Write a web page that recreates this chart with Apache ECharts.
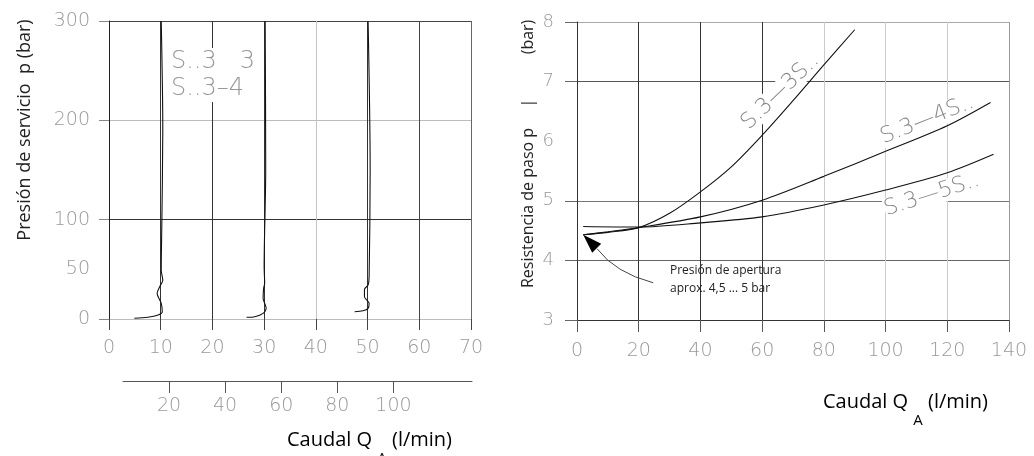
<!DOCTYPE html>
<html>
<head>
<meta charset="utf-8">
<script src="https://cdn.jsdelivr.net/npm/echarts@6/dist/echarts.min.js"></script>
<style>
  html, body { margin: 0; background: #fff; }
  #chart { width: 1034px; height: 456px; }
</style>
</head>
<body>
<div id="chart"></div>
<script>
// --- left: presión de servicio p (bar) vs caudal (l/min) ---
const curve10 = [[4.9, 0.7], [7.5, 1.7], [9.5, 4], [10.3, 7.3], [10.1, 15.8], [9.3, 25.8], [9.8, 32.5], [10.4, 39], [10.1, 49], [10.2, 90], [10.4, 190], [10.1, 300]];
const curve30 = [[26.6, 1.7], [28.2, 2.3], [29.8, 5.7], [30.4, 10.7], [29.8, 20.8], [29.9, 30.8], [30.1, 35.9], [30.0, 52.5], [30.3, 150], [30.2, 300]];
const curve50 = [[47.5, 7.3], [49.1, 8.3], [50.1, 10.7], [50.3, 15.8], [49.4, 22.4], [49.4, 29.8], [50.1, 34.2], [50.3, 42.5], [50.5, 150], [50.1, 300]];
const pressureLabels = [0, 50, 100, 200, 300];
const flowScaleTicks = [20, 40, 60, 80, 100];

// --- right: resistencia de paso (bar) vs caudal (l/min) ---
const curve3S = [[2, 4.43], [10, 4.47], [20, 4.55], [30, 4.79], [40, 5.15], [50, 5.57], [60, 6.1], [70, 6.68], [80, 7.28], [90, 7.87]];
const curve4S = [[2, 4.43], [10, 4.48], [20, 4.55], [40, 4.73], [60, 5.01], [80, 5.41], [100, 5.83], [120, 6.26], [134, 6.65]];
const curve5S = [[2, 4.57], [20, 4.56], [40, 4.63], [60, 4.73], [80, 4.93], [100, 5.18], [120, 5.47], [135, 5.78]];
const resistTicks = [3, 4, 5, 7, 8];

const tickFont = { color: '#999', fontSize: 19, fontFamily: 'DejaVu Sans', fontWeight: 200 };
const textFont = '"Open Sans", "Noto Sans", sans-serif';

const chart = echarts.init(document.getElementById('chart'));

function line(data, xi, yi) {
  return {
    type: 'line', data: data, xAxisIndex: xi, yAxisIndex: yi,
    smooth: 0.3, showSymbol: false, silent: true,
    lineStyle: { color: '#111', width: 1.1 }
  };
}

chart.setOption({
  animation: false,
  grid: [
    { left: 109, right: 563, top: 21, bottom: 137 },
    { left: 123, right: 562, top: 370, bottom: 75 },
    { left: 577, right: 25, top: 22, bottom: 136 }
  ],
  xAxis: [
    {
      gridIndex: 0, type: 'value', min: 0, max: 70, interval: 10,
      axisLine: { lineStyle: { color: '#bbb' } },
      axisTick: { length: 11, lineStyle: { color: '#444' } },
      axisLabel: { margin: 20, ...tickFont },
      splitLine: { show: true, lineStyle: { color: ['#222', '#333', '#333', '#333', '#c4c4c4', '#333', '#444', '#666'] } }
    },
    {
      gridIndex: 1, type: 'value', min: 3.6, max: 128,
      axisLine: { lineStyle: { color: '#555' } },
      axisTick: { length: 12, customValues: flowScaleTicks, lineStyle: { color: '#555' } },
      axisLabel: { margin: 16, customValues: flowScaleTicks, ...tickFont },
      splitLine: { show: false }
    },
    {
      gridIndex: 2, type: 'value', min: 0, max: 140, interval: 20,
      axisLine: { lineStyle: { color: '#333' } },
      axisTick: { length: 12, lineStyle: { color: '#555' } },
      axisLabel: { margin: 22, ...tickFont },
      splitLine: { show: true, lineStyle: { color: ['#333', '#333', '#333', '#333', '#ccc', '#ccc', '#ccc', '#999'] } }
    }
  ],
  yAxis: [
    {
      gridIndex: 0, type: 'value', min: 0, max: 300, interval: 50,
      axisLine: { show: true, lineStyle: { color: '#222' } },
      axisTick: { show: false },
      axisLabel: { margin: 19, ...tickFont, formatter: (v) => pressureLabels.includes(v) ? String(v) : '' },
      splitLine: { show: true, lineStyle: { color: ['#bbb', 'transparent', '#333', 'transparent', '#bbb', 'transparent', '#444'] } }
    },
    {
      // tick marks only (0,100,200,300)
      gridIndex: 0, type: 'value', min: 0, max: 300, interval: 100, position: 'left',
      axisLine: { show: false },
      axisTick: { show: true, length: 10, lineStyle: { color: '#888' } },
      axisLabel: { show: false },
      splitLine: { show: false }
    },
    { gridIndex: 1, type: 'value', min: 0, max: 1, show: false },
    {
      gridIndex: 2, type: 'value', min: 3, max: 8, interval: 1,
      axisLine: { show: true, lineStyle: { color: '#333' } },
      axisTick: { show: false },
      axisLabel: { margin: 23, ...tickFont, fontSize: 18 },
      splitLine: { show: true, lineStyle: { color: ['#333', '#666', '#777', 'transparent', '#555', '#aaa'] } }
    },
    {
      gridIndex: 2, type: 'value', min: 3, max: 8, position: 'left',
      axisLine: { show: false },
      axisTick: { show: true, length: 12, customValues: resistTicks, lineStyle: { color: '#666' } },
      axisLabel: { show: false },
      splitLine: { show: false }
    }
  ],
  series: [
    line(curve10, 0, 0),
    line(curve30, 0, 0),
    line(curve50, 0, 0),
    line(curve3S, 2, 3),
    line(curve4S, 2, 3),
    line(curve5S, 2, 3)
  ]
});

// labels and annotation placed from data coordinates
const toPx = (pt) => chart.convertToPixel({ xAxisIndex: 2, yAxisIndex: 3 }, pt);
const p3 = toPx([65.9, 6.83]);
const p4 = toPx([113.5, 6.36]);
const p5 = toPx([115, 5.1]);
const tip = toPx([2, 4.43]);
const deg = Math.PI / 180;
const curveLabel = (p, text, rot) => ({
  type: 'text', x: p[0], y: p[1], rotation: rot * deg, z: 1,
  style: { text: text, font: '200 22px "DejaVu Sans"', fill: '#888', align: 'center', verticalAlign: 'middle', backgroundColor: '#fff' }
});
const rich = {
  a: { fontSize: 20, lineHeight: 24, verticalAlign: 'top', fontFamily: textFont, color: '#222' },
  s: { fontSize: 15, lineHeight: 14, padding: [33, 0, 0, 0], fontFamily: textFont, color: '#222' }
};

chart.setOption({
  graphic: [
    {
      type: 'text', x: 25, y: 130, rotation: Math.PI / 2,
      style: { text: 'Presión de servicio  p (bar)', font: '18px ' + textFont, fill: '#222', align: 'center', verticalAlign: 'middle' }
    },
    {
      type: 'text', x: 528, y: 208, rotation: Math.PI / 2,
      style: { text: 'Resistencia de paso p', font: '16px ' + textFont, fill: '#222', align: 'center', verticalAlign: 'middle' }
    },
    {
      type: 'text', x: 528, y: 103, rotation: Math.PI / 2,
      style: { text: '|', font: '16px ' + textFont, fill: '#222', align: 'center', verticalAlign: 'middle' }
    },
    {
      type: 'text', x: 528, y: 37, rotation: Math.PI / 2,
      style: { text: '(bar)', font: '16px ' + textFont, fill: '#222', align: 'center', verticalAlign: 'middle' }
    },
    {
      type: 'text', x: 287, y: 430,
      style: { text: '{a|Caudal Q }{s|A}{a| (l/min)}', rich: rich, verticalAlign: 'top' }
    },
    {
      type: 'text', x: 823, y: 392,
      style: { text: '{a|Caudal Q }{s|A}{a| (l/min)}', rich: rich, verticalAlign: 'top' }
    },
    {
      type: 'text', x: 171, y: 48, z: 1,
      style: { text: 'S..3   3\nS..3–4', font: '200 24px "DejaVu Sans"', fill: '#999', lineHeight: 27, backgroundColor: '#fff' }
    },
    curveLabel(p3, 'S.3—3S..', 44),
    curveLabel(p4, 'S.3—4S..', 21.8),
    curveLabel(p5, 'S.3—5S..', 18),
    {
      type: 'text', x: 670, y: 262,
      style: { text: 'Presión de apertura\naprox. 4,5 ... 5 bar', font: '12px ' + textFont, fill: '#222', lineHeight: 18 }
    },
    {
      type: 'bezierCurve', z: 3,
      shape: { x1: tip[0] + 14, y1: tip[1] + 14, cpx1: tip[0] + 32, cpy1: tip[1] + 38, x2: tip[0] + 70, y2: tip[1] + 48 },
      style: { stroke: '#444', lineWidth: 1, fill: null }
    },
    {
      type: 'polygon', z: 3,
      shape: { points: [[tip[0], tip[1]], [tip[0] + 9, tip[1] + 18], [tip[0] + 18, tip[1] + 9]] },
      style: { fill: '#000' }
    }
  ]
});
</script>
</body>
</html>
